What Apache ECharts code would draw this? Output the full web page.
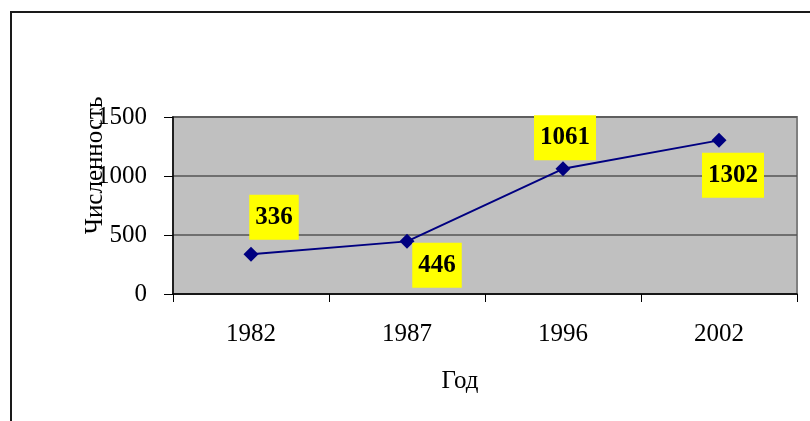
<!DOCTYPE html>
<html>
<head>
<meta charset="utf-8">
<script src="https://cdn.jsdelivr.net/npm/echarts@6/dist/echarts.min.js"></script>
<style>
  html, body { margin: 0; padding: 0; background: #fff; }
  #chart { width: 810px; height: 421px; }
</style>
</head>
<body>
<div id="chart"></div>
<script>
// data
const years = ["1982", "1987", "1996", "2002"];
const population = [336, 446, 1061, 1302];
const yMin = 0;
const yMax = 1500;
const yStep = 500;
const xTitle = "Год";
const yTitle = "Численность";

// where each yellow label box sits relative to its point
const labelShift = [[23, -37], [30, 24], [2, -31], [14, 35]];

const serif = "'Liberation Serif', 'Times New Roman', serif";

const chart = echarts.init(document.getElementById("chart"));

const seriesData = population.map((v, i) => ({
  value: v,
  label: { offset: labelShift[i] }
}));

chart.setOption({
  animation: false,
  graphic: [{
    type: "rect",
    shape: { x: 11, y: 12, width: 1000, height: 1000 },
    style: { fill: "none", stroke: "#1a1a1a", lineWidth: 2 },
    silent: true
  }],
  grid: {
    left: 173, right: 13, top: 117, bottom: 127,
    show: true,
    backgroundColor: "#c0c0c0",
    borderColor: "#808080",
    borderWidth: 2
  },
  xAxis: {
    type: "category",
    data: years,
    boundaryGap: true,
    name: xTitle,
    nameLocation: "middle",
    nameGap: 75,
    nameMoveOverlap: false,
    nameTextStyle: { fontFamily: serif, fontSize: 25, color: "#000", padding: [0, 50, 0, 0] },
    axisLine: { lineStyle: { color: "#000", width: 1.5 } },
    axisTick: { show: true, length: 8, lineStyle: { color: "#000" } },
    axisLabel: { fontFamily: serif, fontSize: 25, color: "#000", margin: 28 },
    splitLine: { show: false }
  },
  yAxis: {
    type: "value",
    min: yMin,
    max: yMax,
    interval: yStep,
    name: yTitle,
    nameLocation: "middle",
    nameGap: 65,
    nameMoveOverlap: false,
    nameTextStyle: { fontFamily: serif, fontSize: 25, color: "#000", padding: [0, 0, 0, 80] },
    axisLine: { show: true, lineStyle: { color: "#000", width: 1.5 } },
    axisTick: { show: true, length: 9, lineStyle: { color: "#000" } },
    axisLabel: {
      fontFamily: serif, fontSize: 25, color: "#000", margin: 26,
      formatter: v => String(v)
    },
    splitLine: { lineStyle: { color: "#555", width: 1.5 } }
  },
  series: [{
    type: "line",
    data: seriesData,
    symbol: "diamond",
    symbolSize: 15,
    lineStyle: { color: "#000080", width: 2 },
    itemStyle: { color: "#000080" },
    label: {
      show: true,
      position: "inside",
      fontFamily: serif,
      fontSize: 25,
      fontWeight: "bold",
      color: "#000",
      backgroundColor: "#ffff00",
      padding: [10, 6, 10, 6]
    }
  }]
});
</script>
</body>
</html>
